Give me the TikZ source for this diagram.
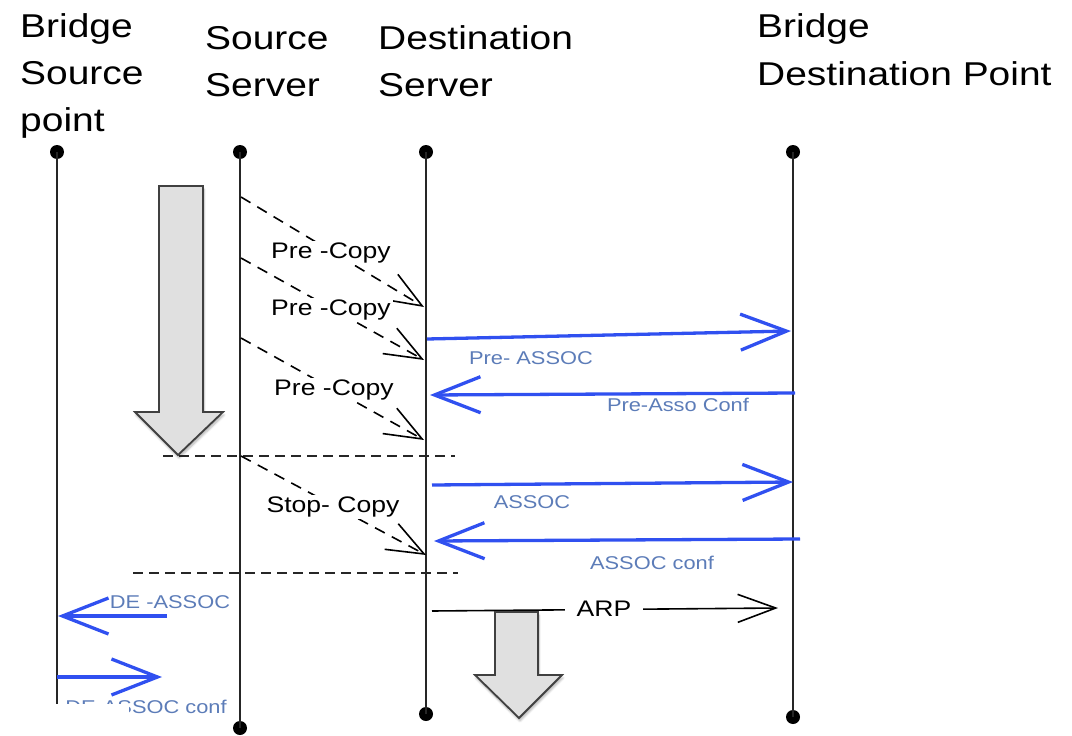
\documentclass[tikz,border=0pt]{standalone}
\usepackage{fontspec}
\setmainfont{Liberation Sans}[FakeStretch=1.18]
\usetikzlibrary{arrows.meta,shadows.blur}
\definecolor{msgblue}{RGB}{48,80,240}
\definecolor{lblblue}{RGB}{92,124,184}
\definecolor{bigfill}{RGB}{224,224,224}
\begin{document}
\begin{tikzpicture}[x=1pt,y=-1pt,
  header/.style={anchor=base west, inner sep=0pt, font=\fontsize{33}{40}\selectfont},
  life/.style={line width=2.1pt, draw=black!85},
  dotnode/.style={circle, fill=black, inner sep=0pt, minimum size=14pt},
  copymsg/.style={draw=black, line width=1.6pt, dash pattern=on 11pt off 8pt,
    -{Straight Barb[length=37pt,width=29pt,line width=1.6pt]}},
  bluemsg/.style={draw=msgblue, line width=3.3pt,
    -{Straight Barb[length=46pt,width=36pt,line width=3.3pt]}},
  arpmsg/.style={draw=black, line width=1.6pt,
    -{Straight Barb[length=38pt,width=28pt,line width=1.6pt]}},
  sepline/.style={draw=black!85, line width=1.9pt, dash pattern=on 10pt off 6pt},
  blacklbl/.style={fill=white, inner sep=2pt, font=\fontsize{22.5}{26}\selectfont},
  bluelbl/.style={text=lblblue, inner sep=1pt, font=\fontsize{18.5}{22}\selectfont},
  bigarrow/.style={fill=bigfill, draw=black!75, line width=1.8pt, line join=miter,
    blur shadow={shadow xshift=1pt, shadow yshift=-3pt, shadow blur steps=6, shadow opacity=30}}
]
\useasboundingbox (0,0) rectangle (1072,736);

% headers
\node[header] (h1a) at (20,37) {Bridge};
\node[header] (h1b) at (20,84) {Source};
\node[header] (h1c) at (20,131) {point};
\node[header] (h2a) at (205,49) {Source};
\node[header] (h2b) at (205,96) {Server};
\node[header] (h3a) at (378,49) {Destination};
\node[header] (h3b) at (378,96) {Server};
\node[header] (h4a) at (757,37) {Bridge};
\node[header] (h4b) at (757,85) {Destination Point};

% lifelines
\node[dotnode] (bsT) at (57,152) {};
\coordinate (bsB) at (57,736);
\node[dotnode] (ssT) at (240,152) {};
\node[dotnode] (ssB) at (240,728) {};
\node[dotnode] (dsT) at (426,152) {};
\node[dotnode] (dsB) at (426,714) {};
\node[dotnode] (bdT) at (793,152) {};
\node[dotnode] (bdB) at (793,717) {};
\draw[life] (bsT.center) -- (bsB);
\draw[life] (ssT.center) -- (ssB.center);
\draw[life] (dsT.center) -- (dsB.center);
\draw[life] (bdT.center) -- (bdB.center);

% big grey arrow (migration phase)
\path[bigarrow] (159,186) -- (203,186) -- (203,412) -- (223,412) -- (178,455)
  -- (135,412) -- (159,412) -- cycle;

% separators
\coordinate (sep1a) at (163,456); \coordinate (sep1b) at (455,456);
\coordinate (sep2a) at (133,573); \coordinate (sep2b) at (458,573);
\draw[sepline] (sep1a) -- (sep1b);
\draw[sepline] (sep2a) -- (sep2b);

% copy messages
\coordinate (pc1s) at (241,197); \coordinate (pc1e) at (424,307);
\coordinate (pc2s) at (241,258); \coordinate (pc2e) at (424,360);
\coordinate (pc3s) at (241,338); \coordinate (pc3e) at (424,440);
\coordinate (scs) at (241,456);  \coordinate (sce) at (426,555);
\draw[copymsg] (pc1s) -- (pc1e);
\draw[copymsg] (pc2s) -- (pc2e);
\draw[copymsg] (pc3s) -- (pc3e);
\draw[copymsg] (scs) -- (sce);
\node[blacklbl] (l1) at (331,253) {Pre -Copy};
\node[blacklbl] (l2) at (331,310) {Pre -Copy};
\node[blacklbl] (l3) at (334,390) {Pre -Copy};
\node[blacklbl] (l4) at (333,507) {Stop- Copy};

% blue messages
\coordinate (m1s) at (427,339); \coordinate (m1e) at (791,331);
\coordinate (m2s) at (795,393); \coordinate (m2e) at (430,395);
\coordinate (m3s) at (432,485); \coordinate (m3e) at (793,482);
\coordinate (m4s) at (800,539); \coordinate (m4e) at (434,541);
\coordinate (m5s) at (167,616); \coordinate (m5e) at (58,616);
\coordinate (m6s) at (57,677);  \coordinate (m6e) at (162,677);
\draw[bluemsg] (m1s) -- (m1e);
\draw[bluemsg] (m2s) -- (m2e);
\draw[bluemsg] (m3s) -- (m3e);
\draw[bluemsg] (m4s) -- (m4e);
\draw[bluemsg] (m5s) -- (m5e);
\draw[bluemsg] (m6s) -- (m6e);
\node[bluelbl] (b1) at (531,358) {Pre- ASSOC};
\node[bluelbl] (b2) at (678,405) {Pre-Asso Conf};
\node[bluelbl] (b3) at (532,502) {ASSOC};
\node[bluelbl] (b4) at (652,563) {ASSOC conf};
\node[bluelbl] (b5) at (170,602) {DE -ASSOC};
\node[bluelbl] (b6) at (146,707) {DE-ASSOC conf};
\fill[white] (0,704) rectangle (129,736);

% ARP
\coordinate (arps) at (432,611); \coordinate (arpe) at (778,608);
\draw[arpmsg] (arps) -- (arpe);
\node[blacklbl, inner xsep=12pt] (arp) at (604,609) {ARP};

\path[bigarrow] (495,612) -- (538,612) -- (538,675) -- (562,675) -- (519,718)
  -- (475,675) -- (495,675) -- cycle;
\end{tikzpicture}
\end{document}
